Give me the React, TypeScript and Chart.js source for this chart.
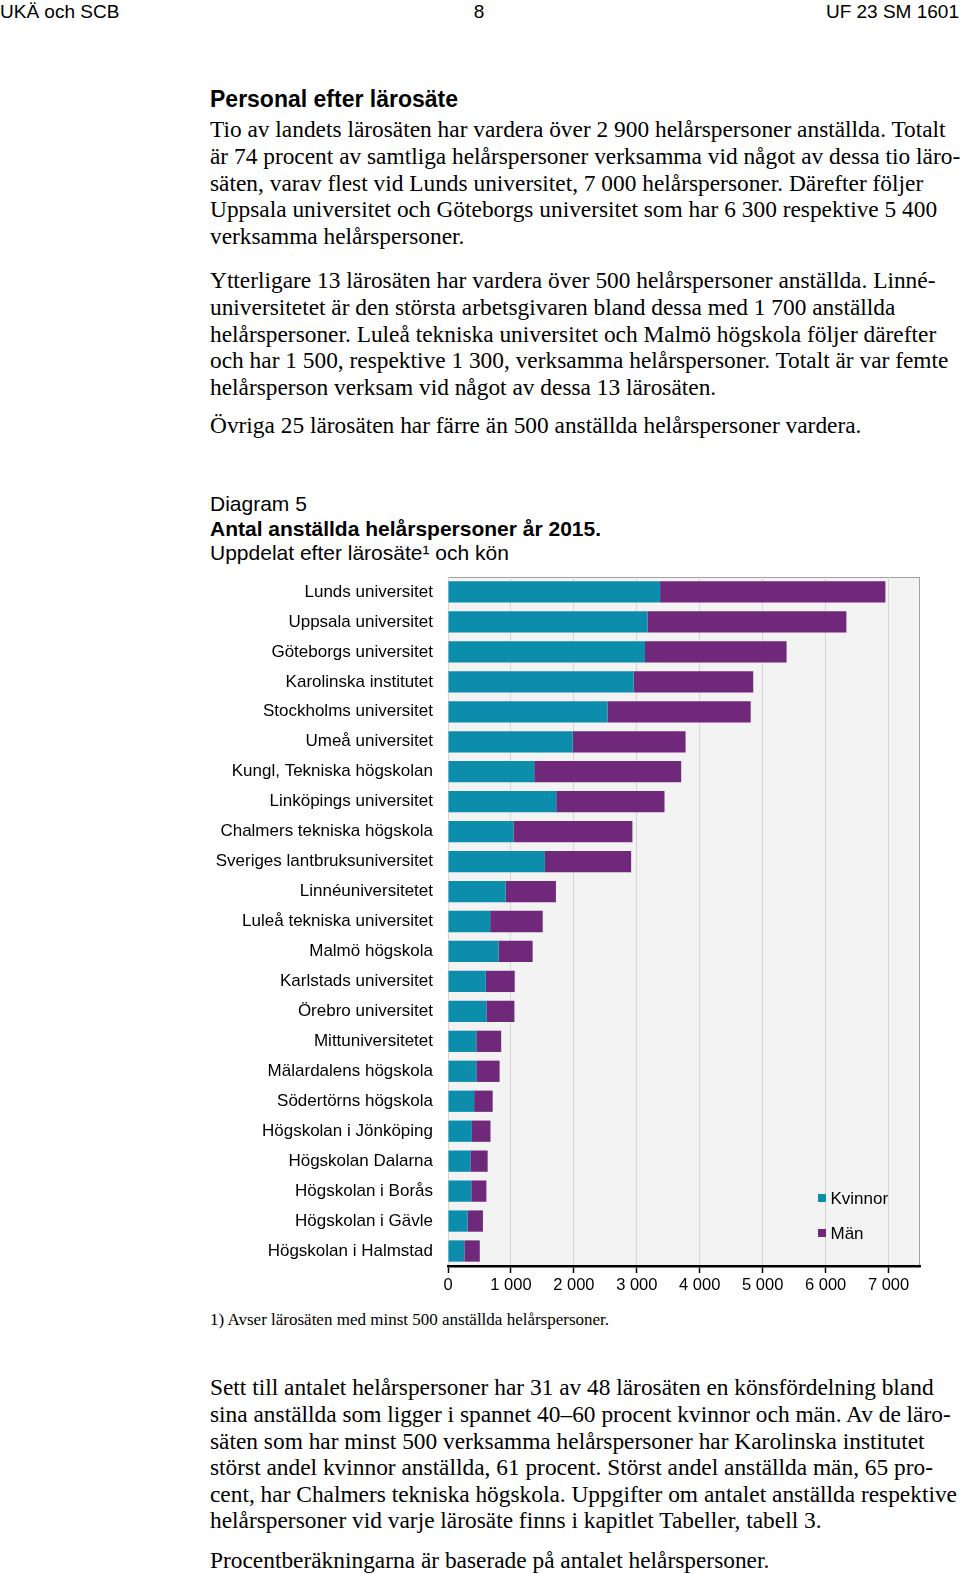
import React, { useEffect, useRef } from 'react';
import { Chart, registerables } from 'chart.js';

Chart.register(...registerables);

const categories = [
  'Lunds universitet',
  'Uppsala universitet',
  'Göteborgs universitet',
  'Karolinska institutet',
  'Stockholms universitet',
  'Umeå universitet',
  'Kungl, Tekniska högskolan',
  'Linköpings universitet',
  'Chalmers tekniska högskola',
  'Sveriges lantbruksuniversitet',
  'Linnéuniversitetet',
  'Luleå tekniska universitet',
  'Malmö högskola',
  'Karlstads universitet',
  'Örebro universitet',
  'Mittuniversitetet',
  'Mälardalens högskola',
  'Södertörns högskola',
  'Högskolan i Jönköping',
  'Högskolan Dalarna',
  'Högskolan i Borås',
  'Högskolan i Gävle',
  'Högskolan i Halmstad',
];

const kvinnor = [3370, 3170, 3130, 2950, 2535, 1980, 1370, 1720, 1040, 1540, 915, 670, 805, 600, 610, 450, 450, 415, 380, 355, 370, 310, 260];
const man = [3580, 3160, 2250, 1900, 2275, 1795, 2335, 1720, 1890, 1370, 800, 835, 540, 460, 445, 395, 370, 295, 295, 275, 240, 245, 245];

const seriesNames = ['Kvinnor', 'Män'];
const seriesColors = ['#0b8dab', '#70287a'];
const xTickValues = [0, 1000, 2000, 3000, 4000, 5000, 6000, 7000];
const xMax = 7500;

const headerLeft = 'UKÄ och SCB';
const headerCenter = '8';
const headerRight = 'UF 23 SM 1601';
const heading = 'Personal efter lärosäte';

const para1 = [
  'Tio av landets lärosäten har vardera över 2 900 helårspersoner anställda. Totalt',
  'är 74 procent av samtliga helårspersoner verksamma vid något av dessa tio läro-',
  'säten, varav flest vid Lunds universitet, 7 000 helårspersoner. Därefter följer',
  'Uppsala universitet och Göteborgs universitet som har 6 300 respektive 5 400',
  'verksamma helårspersoner.',
];
const para2 = [
  'Ytterligare 13 lärosäten har vardera över 500 helårspersoner anställda. Linné-',
  'universitetet är den största arbetsgivaren bland dessa med 1 700 anställda',
  'helårspersoner. Luleå tekniska universitet och Malmö högskola följer därefter',
  'och har 1 500, respektive 1 300, verksamma helårspersoner. Totalt är var femte',
  'helårsperson verksam vid något av dessa 13 lärosäten.',
];
const para3 = ['Övriga 25 lärosäten har färre än 500 anställda helårspersoner vardera.'];
const para4 = [
  'Sett till antalet helårspersoner har 31 av 48 lärosäten en könsfördelning bland',
  'sina anställda som ligger i spannet 40–60 procent kvinnor och män. Av de läro-',
  'säten som har minst 500 verksamma helårspersoner har Karolinska institutet',
  'störst andel kvinnor anställda, 61 procent. Störst andel anställda män, 65 pro-',
  'cent, har Chalmers tekniska högskola. Uppgifter om antalet anställda respektive',
  'helårspersoner vid varje lärosäte finns i kapitlet Tabeller, tabell 3.',
];
const para5 = ['Procentberäkningarna är baserade på antalet helårspersoner.'];

const diagramLabel = 'Diagram 5';
const diagramTitle = 'Antal anställda helårspersoner år 2015.';
const diagramSubtitle = 'Uppdelat efter lärosäte¹ och kön';
const footnote = '1) Avser lärosäten med minst 500 anställda helårspersoner.';

const SANS = '"Liberation Sans", Arial, Helvetica, sans-serif';
const SERIF = '"Liberation Serif", "Times New Roman", serif';
const BODY_FS = 23;
const FN_FS = 16;
const LINE = 26.65;

const fmt = (v: number) => String(v).replace(/\B(?=(\d{3})+(?!\d))/g, ' ');

const plotBg = {
  id: 'plotBg',
  beforeDraw(chart: any) {
    const { ctx, chartArea } = chart;
    const { left, top, right, bottom } = chartArea;
    ctx.save();
    ctx.fillStyle = '#f3f3f3';
    ctx.fillRect(left, top, right - left, bottom - top);
    ctx.strokeStyle = '#a0a0a0';
    ctx.lineWidth = 1;
    ctx.strokeRect(left + 0.5, top + 0.5, right - left - 1, bottom - top);
    ctx.restore();
  },
};

const innerLegend = {
  id: 'innerLegend',
  afterDraw(chart: any) {
    const { ctx, chartArea } = chart;
    const x0 = chartArea.right - 102;
    const y0 = chartArea.bottom - 72;
    ctx.save();
    ctx.font = `17px ${SANS}`;
    ctx.textBaseline = 'middle';
    ctx.textAlign = 'left';
    chart.data.datasets.forEach((ds: any, i: number) => {
      const y = y0 + i * 35;
      ctx.fillStyle = ds.backgroundColor;
      ctx.fillRect(x0, y, 8, 8);
      ctx.fillStyle = '#000';
      ctx.fillText(ds.label, x0 + 12.5, y + 5);
    });
    ctx.restore();
  },
};

export default function App() {
  const ref = useRef<HTMLCanvasElement | null>(null);

  useEffect(() => {
    if (!ref.current) return;
    const chart = new Chart(ref.current, {
      type: 'bar',
      data: {
        labels: categories,
        datasets: [
          { label: seriesNames[0], data: kvinnor, backgroundColor: seriesColors[0], borderWidth: 0 },
          { label: seriesNames[1], data: man, backgroundColor: seriesColors[1], borderWidth: 0 },
        ],
      },
      options: {
        indexAxis: 'y',
        responsive: false,
        animation: false,
        devicePixelRatio: 1,
        datasets: { bar: { barPercentage: 0.71, categoryPercentage: 1 } },
        layout: { padding: { top: 17, right: 40, left: 0, bottom: 0 } },
        plugins: {
          legend: { display: false },
          tooltip: { enabled: false },
        },
        scales: {
          x: {
            stacked: true,
            min: 0,
            max: xMax,
            afterBuildTicks: (scale: any) => {
              scale.ticks = xTickValues.map((v) => ({ value: v }));
            },
            afterFit: (scale: any) => {
              scale.height = 34;
              scale.paddingLeft = 0;
              scale.paddingRight = 0;
            },
            grid: {
              color: '#d6d6d6',
              lineWidth: 1,
              tickColor: '#000',
              tickLength: 7,
              tickWidth: 1.5,
            },
            border: { color: '#000', width: 2.5 },
            ticks: {
              padding: 3,
              color: '#000',
              font: { family: SANS, size: 16.5 },
              callback: (v: any) => fmt(Number(v)),
              maxRotation: 0,
              autoSkip: false,
            },
          },
          y: {
            stacked: true,
            afterFit: (scale: any) => {
              scale.width = 448;
              scale.paddingTop = 0;
              scale.paddingBottom = 0;
            },
            grid: { display: false, drawTicks: false },
            border: { display: false },
            ticks: {
              padding: 15,
              color: '#000',
              font: { family: SANS, size: 17 },
              autoSkip: false,
            },
          },
        },
      },
      plugins: [plotBg, innerLegend],
    } as any);
    return () => chart.destroy();
  }, []);

  const mctx = document.createElement('canvas').getContext('2d') as CanvasRenderingContext2D;
  mctx.font = `${BODY_FS}px ${SERIF}`;
  const bodyScale = 736 / mctx.measureText(para1[0]).width;
  mctx.font = `${FN_FS}px ${SERIF}`;
  const fnScale = 400 / mctx.measureText(footnote).width;

  const serifLines = (lines: string[], firstBaseline: number, key: string) =>
    lines.map((t, i) => (
      <div
        key={key + i}
        style={{
          position: 'absolute',
          left: 210,
          top: firstBaseline + i * LINE - 0.8375 * BODY_FS,
          fontFamily: SERIF,
          fontSize: BODY_FS,
          lineHeight: `${BODY_FS}px`,
          whiteSpace: 'pre',
          transform: `scaleX(${bodyScale})`,
          transformOrigin: '0 0',
          color: '#000',
        }}
      >
        {t}
      </div>
    ));

  const sansLine = (text: string, baseline: number, fs: number, extra: React.CSSProperties, key: string) => (
    <div
      key={key}
      style={{
        position: 'absolute',
        top: baseline - 0.8465 * fs,
        fontFamily: SANS,
        fontSize: fs,
        lineHeight: `${fs}px`,
        whiteSpace: 'pre',
        color: '#000',
        ...extra,
      }}
    >
      {text}
    </div>
  );

  return (
    <div style={{ position: 'absolute', left: 0, top: 0, width: 960, height: 1574, background: '#fff', overflow: 'hidden' }}>
      {sansLine(headerLeft, 18.5, 19, { left: 0 }, 'hl')}
      {sansLine(headerCenter, 18.5, 19, { left: 0, width: 958, textAlign: 'center' }, 'hc')}
      {sansLine(headerRight, 18.5, 19, { right: 1 }, 'hr')}
      {sansLine(heading, 107.5, 23, { left: 210, fontWeight: 'bold' }, 'h1')}
      {serifLines(para1, 137.5, 'p1')}
      {serifLines(para2, 288.5, 'p2')}
      {serifLines(para3, 433, 'p3')}
      {sansLine(diagramLabel, 510.5, 21, { left: 210 }, 'd1')}
      {sansLine(diagramTitle, 535.5, 21, { left: 210, fontWeight: 'bold' }, 'd2')}
      {sansLine(diagramSubtitle, 559.5, 21, { left: 210 }, 'd3')}
      <canvas
        ref={ref}
        width={960}
        height={740}
        style={{ position: 'absolute', left: 0, top: 560, width: 960, height: 740 }}
      />
      <div
        style={{
          position: 'absolute',
          left: 210,
          top: 1325 - 0.8375 * FN_FS,
          fontFamily: SERIF,
          fontSize: FN_FS,
          lineHeight: `${FN_FS}px`,
          whiteSpace: 'pre',
          transform: `scaleX(${fnScale})`,
          transformOrigin: '0 0',
          color: '#000',
        }}
      >
        {footnote}
      </div>
      {serifLines(para4, 1395.5, 'p4')}
      {serifLines(para5, 1568, 'p5')}
    </div>
  );
}
